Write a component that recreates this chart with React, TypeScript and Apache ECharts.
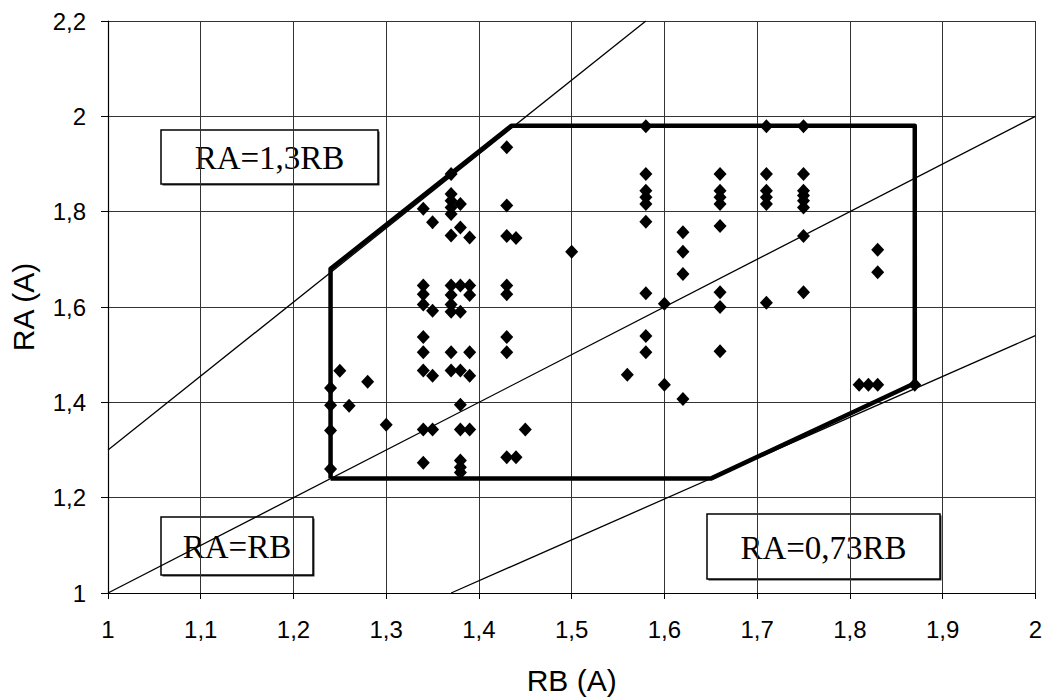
import { useEffect, useRef } from "react";
import * as echarts from "echarts";

// Measured operating points, grouped by RB column (A)
const rbColumns = [
  1.24, 1.25, 1.26, 1.28, 1.3, 1.34, 1.35, 1.37, 1.38, 1.39, 1.43, 1.44, 1.45,
  1.5, 1.56, 1.58, 1.6, 1.62, 1.66, 1.71, 1.75, 1.81, 1.82, 1.83, 1.87,
];
const raByColumn = [
  [1.43, 1.394, 1.341, 1.26],
  [1.466],
  [1.393],
  [1.443],
  [1.353],
  [1.806, 1.645, 1.627, 1.605, 1.537, 1.505, 1.467, 1.343, 1.273],
  [1.778, 1.592, 1.456, 1.343],
  [1.879, 1.837, 1.823, 1.809, 1.795, 1.75, 1.645, 1.625, 1.605, 1.59, 1.505, 1.467],
  [1.816, 1.767, 1.645, 1.59, 1.467, 1.395, 1.343, 1.278, 1.264, 1.253],
  [1.746, 1.645, 1.625, 1.505, 1.456, 1.343],
  [1.935, 1.813, 1.749, 1.645, 1.627, 1.537, 1.505, 1.285],
  [1.745, 1.285],
  [1.343],
  [1.716],
  [1.458],
  [1.979, 1.879, 1.844, 1.83, 1.816, 1.779, 1.629, 1.539, 1.505],
  [1.607, 1.437],
  [1.757, 1.716, 1.669, 1.407],
  [1.879, 1.844, 1.83, 1.816, 1.77, 1.631, 1.6, 1.507],
  [1.979, 1.879, 1.844, 1.83, 1.816, 1.609],
  [1.979, 1.879, 1.844, 1.834, 1.823, 1.809, 1.749, 1.631],
  [1.437],
  [1.437],
  [1.72, 1.673, 1.437],
  [1.437],
];

// Operating-zone boundary (thick outline)
const boundaryRB = [1.24, 1.24, 1.435, 1.87, 1.87, 1.65, 1.24];
const boundaryRA = [1.24, 1.68, 1.98, 1.98, 1.44, 1.24, 1.24];

// Reference ratio lines, end points
const lineHighRB = [1, 1.58];
const lineHighRA = [1.3, 2.2];
const lineEqualRB = [1, 2];
const lineEqualRA = [1, 2];
const lineLowRB = [1.37, 2];
const lineLowRA = [1, 1.54];

// Annotation boxes: label and box extents in px
const noteLabels = ["RA=1,3RB", "RA=RB", "RA=0,73RB"];
const noteBoxes = [
  [161, 130, 217, 54],
  [161, 517, 152, 58],
  [707, 514, 233, 65],
];

const xName = "RB (A)";
const yName = "RA (A)";

const zip = (a: number[], b: number[]) => a.map((v, i) => [v, b[i]]);

const fmt = (v: number) => String(Math.round(v * 10) / 10).replace(".", ",");

export default function App() {
  const ref = useRef<HTMLDivElement>(null);

  useEffect(() => {
    if (!ref.current) return;
    const chart = echarts.init(ref.current, undefined, { renderer: "svg" });

    const points: number[][] = [];
    rbColumns.forEach((rb, i) => raByColumn[i].forEach((ra) => points.push([rb, ra])));

    const thin = { color: "#000", width: 1.3 };

    const notes = noteLabels.map((label, i) => {
      const [x, y, w, h] = noteBoxes[i];
      return {
        type: "group",
        x,
        y,
        children: [
          { type: "rect", shape: { x: 1.5, y: 1.5, width: w, height: h }, style: { fill: "#333" } },
          {
            type: "rect",
            shape: { x: 0, y: 0, width: w, height: h },
            style: { fill: "#fff", stroke: "#000", lineWidth: 1.5 },
          },
          {
            type: "text",
            x: w / 2,
            y: h / 2 + 1,
            style: {
              text: label,
              fill: "#000",
              font: '33px "Liberation Serif", "Times New Roman", serif',
              align: "center",
              verticalAlign: "middle",
            },
          },
        ],
      };
    });

    chart.setOption({
      animation: false,
      backgroundColor: "#fff",
      grid: { left: 107, right: 9, top: 21, bottom: 105, containLabel: false },
      xAxis: {
        type: "value",
        min: 1,
        max: 2,
        interval: 0.1,
        name: xName,
        nameLocation: "middle",
        nameGap: 72,
        nameTextStyle: { fontFamily: "Liberation Sans, Arial, sans-serif", fontSize: 30, color: "#000" },
        axisLine: { show: true, lineStyle: { color: "#000", width: 1.2 } },
        axisTick: { show: true, length: 6, lineStyle: { color: "#000" } },
        axisLabel: {
          formatter: fmt,
          fontFamily: "Liberation Sans, Arial, sans-serif",
          fontSize: 24,
          color: "#000",
          margin: 24,
        },
        splitLine: { show: true, lineStyle: { color: "#333", width: 1 } },
      },
      yAxis: {
        type: "value",
        min: 1,
        max: 2.2,
        interval: 0.2,
        name: yName,
        nameLocation: "middle",
        nameGap: 70,
        nameTextStyle: { fontFamily: "Liberation Sans, Arial, sans-serif", fontSize: 30, color: "#000" },
        axisLine: { show: true, lineStyle: { color: "#000", width: 1.2 } },
        axisTick: { show: true, length: 7, lineStyle: { color: "#000" } },
        axisLabel: {
          formatter: fmt,
          fontFamily: "Liberation Sans, Arial, sans-serif",
          fontSize: 24,
          color: "#000",
          margin: 22,
        },
        splitLine: { show: true, lineStyle: { color: "#333", width: 1 } },
      },
      series: [
        { type: "line", data: zip(lineHighRB, lineHighRA), symbol: "none", lineStyle: thin, silent: true },
        { type: "line", data: zip(lineEqualRB, lineEqualRA), symbol: "none", lineStyle: thin, silent: true },
        { type: "line", data: zip(lineLowRB, lineLowRA), symbol: "none", lineStyle: thin, silent: true },
        {
          type: "line",
          data: zip(boundaryRB, boundaryRA),
          symbol: "none",
          lineStyle: { color: "#000", width: 4.5, join: "round" },
          silent: true,
        },
        {
          type: "scatter",
          data: points,
          symbol: "diamond",
          symbolSize: [13, 14],
          itemStyle: { color: "#000", opacity: 1 },
          z: 5,
        },
      ],
      graphic: notes,
    });

    return () => chart.dispose();
  }, []);

  return (
    <div
      ref={ref}
      style={{ position: "absolute", left: 0, top: 0, width: 1045, height: 700 }}
    />
  );
}
